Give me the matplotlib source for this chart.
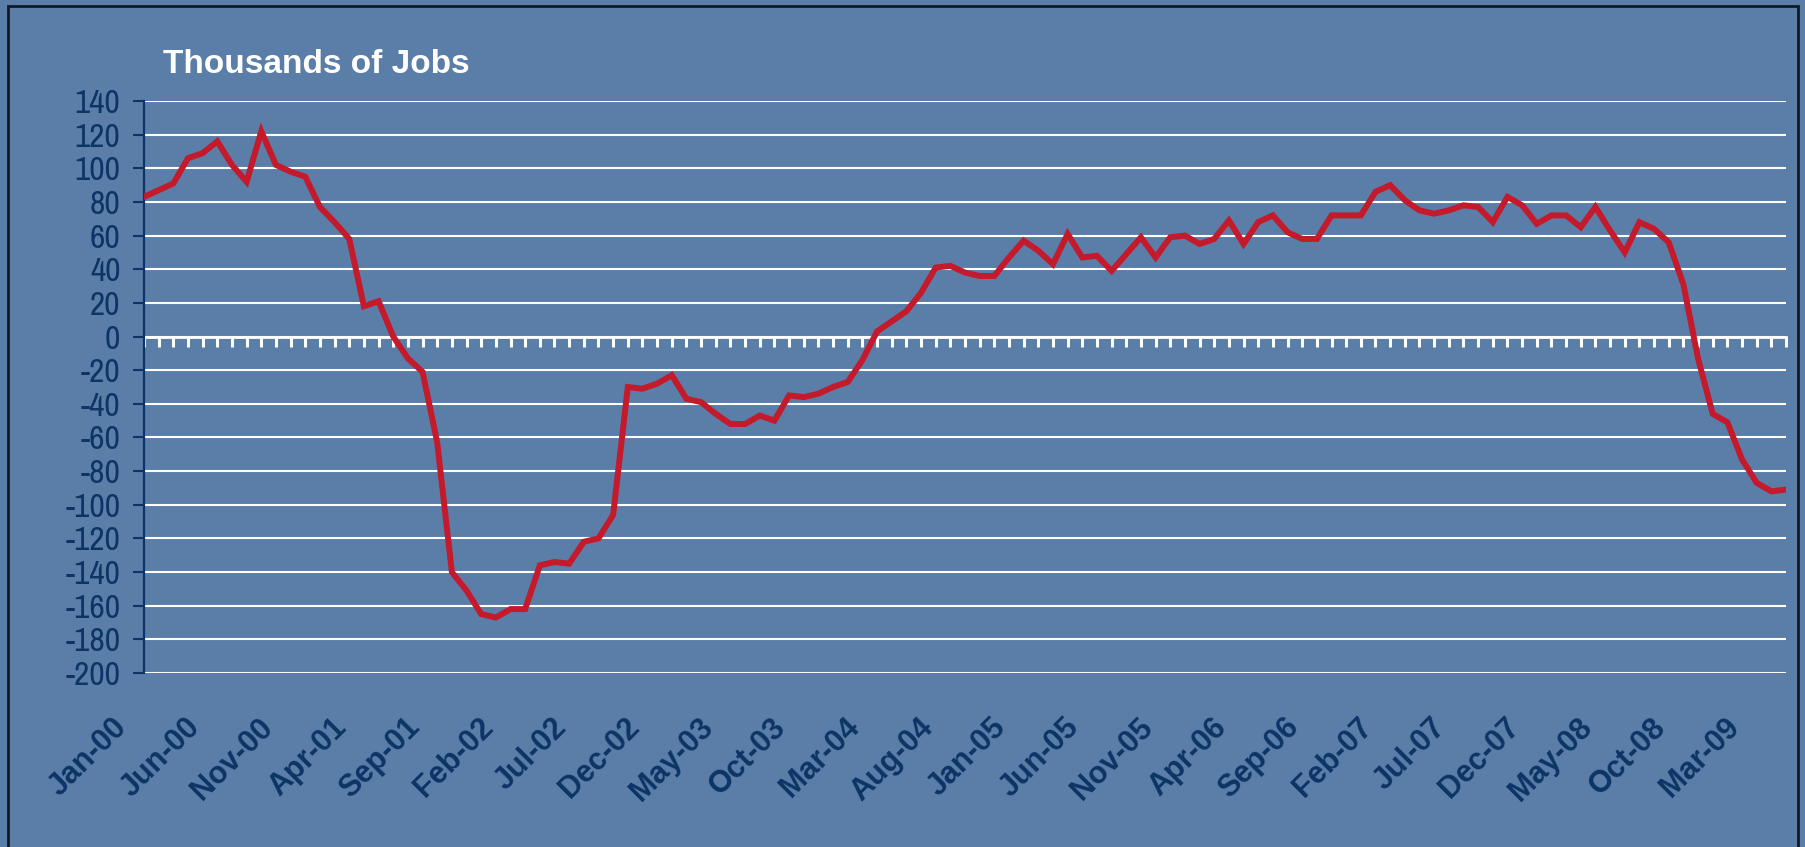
"""
Thousands of Jobs - monthly job change line chart (Jan-00 .. May-09).
"""

import matplotlib

# 0. no display, save straight to png
matplotlib.use("Agg")

import matplotlib.pyplot as plt
import matplotlib.transforms as mtransforms
from matplotlib.patches import Rectangle
import pandas as pd

# 1. data (thousands of jobs, one value per month)
START_MONTH = "2000-01-01"
JOB_CHANGE = [
    83, 87, 91, 106, 109, 116, 102, 92, 122, 102, 98, 95,          # 2000
    77, 68, 58, 18, 21, 0, -13, -21, -63, -140, -151, -165,       # 2001
    -167, -162, -162, -136, -134, -135, -122, -120, -106, -30, -31, -28,  # 2002
    -23, -37, -39, -46, -52, -52, -47, -50, -35, -36, -34, -30,   # 2003
    -27, -14, 3, 9, 15, 26, 41, 42, 38, 36, 36, 47,               # 2004
    57, 51, 43, 61, 47, 48, 39, 49, 59, 47, 59, 60,               # 2005
    55, 58, 69, 55, 68, 72, 62, 58, 58, 72, 72, 72,               # 2006
    86, 90, 81, 75, 73, 75, 78, 77, 68, 83, 78, 67,               # 2007
    72, 72, 65, 77, 63, 50, 68, 64, 56, 31, -13, -46,             # 2008
    -51, -73, -87, -92, -91,                                      # 2009
]
LABEL_EVERY = 5
Y_TICKS = list(range(-200, 141, 20))
TITLE = "Thousands of Jobs"

# 2. colours
BG = "#5a7ea8"
NAVY = "#0c3566"
LINE_RED = "#c41a2b"
FRAME = "#121a24"

W, H, DPI = 1806, 847, 100

# excel style hyphen for negatives
plt.rcParams["axes.unicode_minus"] = False


def px(v):
    """pixels -> inches (for offsets)"""
    return v / DPI


def main() -> None:
    fig = plt.figure(figsize=(W / DPI, H / DPI), dpi=DPI, facecolor=BG)

    # plot area in pixel terms: x 144..1786, y 101..673
    ax = fig.add_axes([144 / W, 1 - 673 / H, (1786 - 144) / W, (673 - 101) / H])
    ax.set_facecolor("none")

    months = pd.date_range(START_MONTH, periods=len(JOB_CHANGE), freq="MS")
    x = list(range(len(JOB_CHANGE)))

    ax.plot(x, JOB_CHANGE, color=LINE_RED, linewidth=4.3,
            solid_joinstyle="miter", zorder=5)

    ax.set_xlim(0, len(JOB_CHANGE) - 1)
    ax.set_ylim(Y_TICKS[0], Y_TICKS[-1])

    # 3. y axis: navy spine, outward ticks, white grid
    ax.set_yticks(Y_TICKS)
    ax.yaxis.grid(True, color="white", linewidth=1.5, zorder=1)
    ax.set_axisbelow(True)
    for side in ("top", "right", "bottom"):
        ax.spines[side].set_visible(False)
    ax.spines["left"].set_color(NAVY)
    ax.spines["left"].set_linewidth(1.6)
    ax.tick_params(axis="y", direction="out", length=8, width=1.5,
                   color=NAVY, pad=9, labelcolor=NAVY)
    for lab in ax.get_yticklabels():
        lab.set_fontfamily(["Archivo Narrow", "DejaVu Sans"])
        lab.set_fontsize(24)

    # 4. x labels every 5 months, rotated, at the bottom of the plot
    tick_pos = x[::LABEL_EVERY]
    tick_lab = [m.strftime("%b-%y") for m in months[::LABEL_EVERY]]
    ax.set_xticks(tick_pos)
    ax.set_xticklabels(tick_lab)
    ax.tick_params(axis="x", length=0, pad=0)
    shift = mtransforms.ScaledTranslation(px(-22), px(-50), fig.dpi_scale_trans)
    for lab in ax.get_xticklabels():
        lab.set_rotation(45)
        lab.set_rotation_mode("anchor")
        lab.set_ha("right")
        lab.set_va("center")
        lab.set_fontfamily(["Liberation Sans", "DejaVu Sans"])
        lab.set_fontweight("bold")
        lab.set_fontsize(22)
        lab.set_color(NAVY)
        lab.set_transform(lab.get_transform() + shift)

    # 5. the zero line carries the monthly category ticks (white, hanging down)
    zero_axis = ax.secondary_xaxis(0, transform=ax.transData)
    zero_axis.set_xticks(x)
    zero_axis.tick_params(axis="x", direction="out", length=7.5, width=2.2,
                          color="white", labelbottom=False, labeltop=False)
    zero_axis.spines["bottom"].set_color("white")
    zero_axis.spines["bottom"].set_linewidth(2.0)
    zero_axis.set_zorder(2)
    ax.set_zorder(3)

    # 6. title and slide frame
    fig.text(163 / W, 1 - 73 / H, TITLE, color="white", fontsize=24,
             fontweight="bold", family=["Liberation Sans", "DejaVu Sans"],
             va="baseline", ha="left")
    fig.add_artist(Rectangle((8 / W, -0.05), (1798 - 8) / W, 1.05 - 6 / H,
                             transform=fig.transFigure, fill=False,
                             edgecolor=FRAME, linewidth=2.0))

    fig.savefig("out.png", dpi=DPI, facecolor=BG)
    plt.close(fig)


if __name__ == "__main__":
    main()
